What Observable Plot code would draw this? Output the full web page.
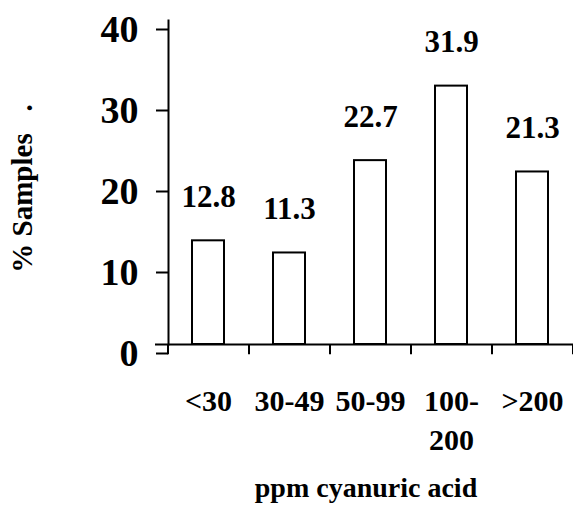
<!DOCTYPE html>
<html>
<head>
<meta charset="utf-8">
<script src="https://cdn.jsdelivr.net/npm/d3@7"></script>
<script src="https://cdn.jsdelivr.net/npm/@observablehq/plot@0.6"></script>
<style>
  html, body { margin: 0; padding: 0; background: #fff; }
  #chart svg { font-family: "Liberation Serif", "Times New Roman", serif; font-weight: bold; }
</style>
</head>
<body>
<div id="chart"></div>
<script>
// Cyanuric acid concentration classes and share of samples in each
const categories = ["<30", "30-49", "50-99", "100-\n200", ">200"];
const percents = [12.8, 11.3, 22.7, 31.9, 21.3];
const yTicks = [0, 10, 20, 30, 40];
const yLabel = "% Samples\u00a0\u00a0\u00a0.";
const xLabel = "ppm cyanuric acid";

const data = categories.map((c, i) => ({category: c, value: percents[i]}));

const width = 573, height = 509;
const marginLeft = 168, marginRight = 0, marginTop = 20, marginBottom = 165;
const step = (width - marginLeft - marginRight) / categories.length;
const last = categories[categories.length - 1];

const chart = Plot.plot({
  width, height, marginLeft, marginRight, marginTop, marginBottom,
  x: {domain: categories, paddingInner: 0.6, paddingOuter: 0.3, axis: null},
  y: {domain: [0, 40], axis: null},
  marks: [
    Plot.barY(data, {x: "category", y: "value", fill: "white", stroke: "black", strokeWidth: 2}),
    Plot.text(data, {
      x: "category", y: "value", text: d => d.value.toFixed(1),
      lineAnchor: "bottom", dy: -34, fontSize: 31, fill: "black"
    }),
    // axis lines
    Plot.frame({anchor: "left", strokeWidth: 2}),
    Plot.ruleY([0], {strokeWidth: 2, insetLeft: -13}),
    // ticks between categories, hanging below the baseline
    Plot.ruleX(categories, {x: d => d, dx: -step / 2, y1: 0, y2: -1.25, strokeWidth: 2}),
    Plot.ruleX([last], {x: d => d, dx: step / 2, y1: 0, y2: -1.25, strokeWidth: 2}),
    Plot.axisY(yTicks, {label: null, tickSize: 12, tickPadding: 18, strokeWidth: 2, fontSize: 38, dy: 9, tickFormat: d => String(d)}),
    Plot.axisX({label: null, tickSize: 0, tickPadding: 39, fontSize: 30, lineHeight: 1.3}),
    Plot.text([yLabel], {frameAnchor: "left", textAnchor: "middle", lineAnchor: "middle", dx: -146, dy: 6, rotate: -90, fontSize: 29, fill: "black"}),
    Plot.text([xLabel], {frameAnchor: "bottom", lineAnchor: "bottom", dx: -5, dy: 152, fontSize: 28, fill: "black"})
  ]
});

document.getElementById("chart").appendChild(chart);
</script>
</body>
</html>
